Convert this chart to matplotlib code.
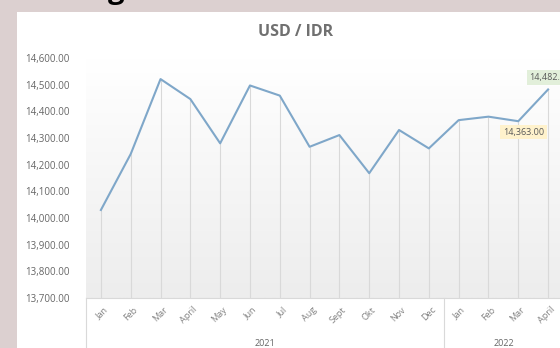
import numpy as np
import matplotlib
matplotlib.use("Agg")
import matplotlib.pyplot as plt
import matplotlib.transforms as mtransforms

months = ['Jan', 'Feb', 'Mar', 'April', 'May', 'Jun', 'Jul', 'Aug', 'Sept',
          'Okt', 'Nov', 'Dec', 'Jan', 'Feb', 'Mar', 'April']
years = ['2021', '2022']
year_counts = [12, 4]
rates = [14030, 14240, 14521, 14446, 14280, 14497, 14459, 14267, 14311,
         14168, 14330, 14261, 14367, 14380, 14363, 14482]
yticks = [13700, 13800, 13900, 14000, 14100, 14200, 14300, 14400, 14500, 14600]

W, H = 560, 348
fig = plt.figure(figsize=(W / 100, H / 100), dpi=100)
fig.patch.set_facecolor('#dcd0d0')
plt.rcParams['font.family'] = ['Open Sans', 'DejaVu Sans']

# white chart area
fig.patches.append(plt.Rectangle((17 / W, 0), 1, 1 - 12 / H, transform=fig.transFigure,
                                 facecolor='white', edgecolor='none', zorder=-10))
# cut-off heading above the chart
fig.text(116 / W, 1 + 2 / H, 'g', fontsize=21, fontweight='bold', color='black',
         ha='center', va='baseline')

ax = fig.add_axes([86 / W, 1 - 298 / H, (563 - 86) / W, 240 / H])
ax.set_facecolor('none')
x = np.arange(len(months))
ax.set_xlim(-0.5, len(months) - 0.5)
ax.set_ylim(yticks[0], yticks[-1])

# gradient plot area
grad = np.linspace(1, 0, 100).reshape(-1, 1)
ax.imshow(grad, extent=(-0.5, len(months) - 0.5, yticks[0], yticks[-1]), aspect='auto',
          cmap=matplotlib.colors.LinearSegmentedColormap.from_list('g', ['#ededed', '#ffffff']),
          zorder=0)

ax.vlines(x, yticks[0], rates, color='#d9d9d9', linewidth=0.8, zorder=1)
ax.plot(x, rates, color='#7fa7c9', linewidth=1.5, zorder=3)

for s in ax.spines.values():
    s.set_visible(False)

ax.set_yticks(yticks)
ax.set_yticklabels([f'{v:,.2f}' for v in yticks], fontsize=7, color='#666666')
ax.tick_params(axis='y', length=0, pad=11.5)
ax.set_xticks([])

# category axis
trans = mtransforms.blended_transform_factory(ax.transData, ax.transAxes)
ax.plot([-0.5, len(months)], [0, 0], transform=trans, color='#d9d9d9', lw=0.8, clip_on=False)
edge = -0.5
start = 0
for yr, n in zip(years, year_counts):
    ax.plot([edge, edge], [0, -0.3], transform=trans, color='#d9d9d9', lw=0.8, clip_on=False)
    ax.text(start + (n - 1) / 2, -0.188, yr, transform=trans, fontsize=6.5, color='#666666',
            ha='center', va='center')
    start += n
    edge += n
for i, m in enumerate(months):
    ax.text(i + 0.07, -0.03, m, transform=trans, rotation=45, rotation_mode='anchor',
            ha='right', va='top', fontsize=6.5, color='#808080')

ax.set_title('USD / IDR', fontsize=11.5, fontweight='bold', color='#707070', pad=0,
             x=(296 - 86) / (563 - 86), y=1 + 22 / 240)

# data labels
ax.annotate(f'{rates[-1]:,.2f}', (x[-1], rates[-1]), xytext=(2, 12), textcoords='offset pixels',
            ha='center', va='center', fontsize=6.5, color='#595959', annotation_clip=False,
            bbox=dict(boxstyle='square,pad=0.3', facecolor='#e2efda', edgecolor='none'))
ax.annotate(f'{rates[-2]:,.2f}', (x[-2], rates[-2]), xytext=(5, -11), textcoords='offset pixels',
            ha='center', va='center', fontsize=6.5, color='#595959',
            bbox=dict(boxstyle='square,pad=0.3', facecolor='#fff2cc', edgecolor='none'))

fig.savefig('out.png', dpi=100)
